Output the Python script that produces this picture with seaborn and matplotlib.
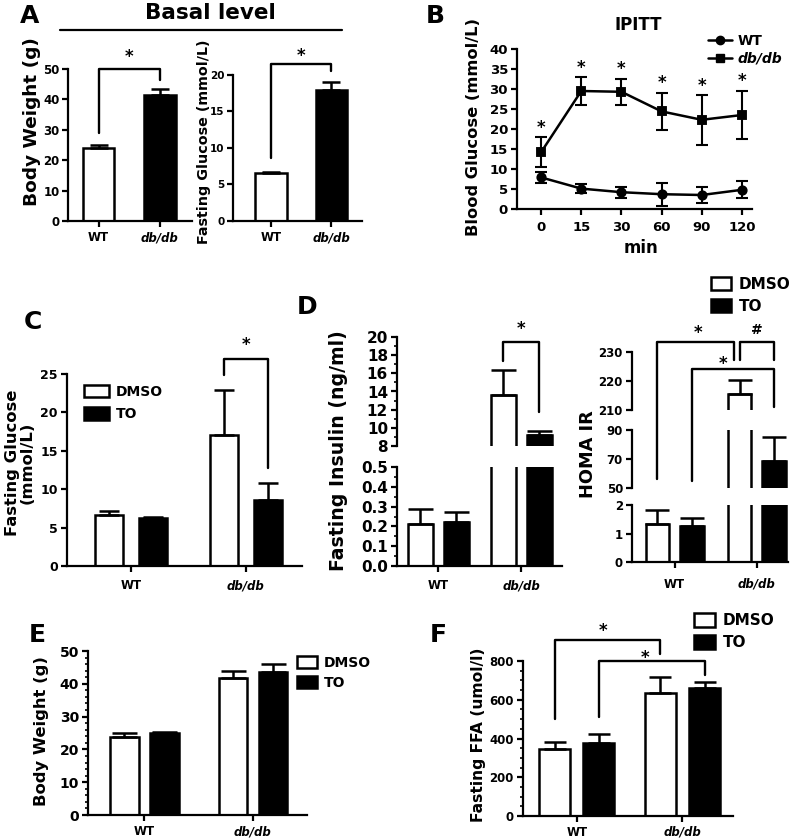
import numpy as np
import pandas as pd
import matplotlib
matplotlib.use('Agg')
import matplotlib.pyplot as plt
import seaborn as sns
from matplotlib.lines import Line2D
from matplotlib.patches import Patch
from matplotlib.ticker import MultipleLocator, FixedLocator, FormatStrFormatter
from matplotlib.transforms import offset_copy

# ---- data ----
groups = ['WT', 'db/db']
treatments = ['DMSO', 'TO']

# A: basal level
a_weight = [24.1, 41.6]
a_weight_err = [0.9, 1.7]
a_glucose = [6.6, 17.9]
a_glucose_err = [0.1, 1.1]

# B: IPITT
b_time = ['0', '15', '30', '60', '90', '120']
b_wt = [7.9, 5.1, 4.2, 3.7, 3.5, 4.8]
b_wt_err = [1.3, 1.1, 1.4, 2.9, 2.1, 2.1]
b_db = [14.2, 29.5, 29.3, 24.4, 22.3, 23.5]
b_db_err = [3.7, 3.4, 3.3, 4.7, 6.2, 6.1]

# C: fasting glucose
c_dmso = [6.7, 17.0]
c_dmso_err = [0.45, 5.9]
c_to = [6.26, 8.65]
c_to_err = [0.15, 2.15]

# D: fasting insulin and HOMA IR
d_ins_dmso = [0.21, 13.65]
d_ins_dmso_err = [0.08, 2.75]
d_ins_to = [0.224, 9.17]
d_ins_to_err = [0.05, 0.48]
d_homa_dmso = [1.32, 215.5]
d_homa_dmso_err = [0.5, 5.0]
d_homa_to = [1.27, 68.7]
d_homa_to_err = [0.28, 16.7]

# E: body weight
e_dmso = [23.9, 41.9]
e_dmso_err = [1.0, 2.0]
e_to = [25.1, 43.7]
e_to_err = [0.3, 2.4]

# F: fasting FFA
f_dmso = [344, 633]
f_dmso_err = [36, 83]
f_to = [377, 659]
f_to_err = [45, 33]

sns.set_theme(style='ticks')
plt.rcParams['font.family'] = ['DejaVu Sans']
plt.rcParams['font.weight'] = 'bold'
plt.rcParams['axes.labelweight'] = 'bold'
plt.rcParams['axes.edgecolor'] = 'black'
plt.rcParams['xtick.color'] = 'black'
plt.rcParams['ytick.color'] = 'black'
plt.rcParams['text.color'] = 'black'
plt.rcParams['axes.labelcolor'] = 'black'

W, H = 800, 838
fig = plt.figure(figsize=(W / 100, H / 100), dpi=100)
boxes = {}


def add_ax(x0, x1, y0, y1):
    ax = fig.add_axes([x0 / W, 1 - y1 / H, (x1 - x0) / W, (y1 - y0) / H])
    boxes[ax] = (x0, x1, y0, y1)
    return ax


def style(ax, fs, bottom=True, xpad=3):
    sns.despine(ax=ax, bottom=not bottom)
    for s in ax.spines.values():
        s.set_linewidth(1.6)
    ax.tick_params(which='major', width=1.6, length=4.5, labelsize=fs, pad=2)
    ax.tick_params(axis='x', labelsize=8.5, pad=xpad)
    ax.tick_params(which='minor', width=1.2, length=2.5)
    ax.set_facecolor('none')
    ax.set_xlabel('')
    ax.set_ylabel('')
    if not bottom:
        ax.tick_params(axis='x', which='both', bottom=False, labelbottom=False)


def ylab(ax, text, fs, cx, cy, **kw):
    x0, x1, y0, y1 = boxes[ax]
    ax.set_ylabel(text, fontsize=fs, va='center', **kw)
    ax.yaxis.set_label_coords((cx - x0) / (x1 - x0), (y1 - cy) / (y1 - y0))


def cat_ticks(ax):
    ax.set_xticks([0, 1])
    ax.set_xticklabels(groups)
    for t in ax.get_xticklabels():
        if t.get_text() == 'db/db':
            t.set_style('italic')


def grouped(ax, dmso, to, width, gap):
    df = pd.DataFrame({'group': groups * 2,
                       'treatment': ['DMSO'] * 2 + ['TO'] * 2,
                       'value': dmso + to})
    sns.barplot(data=df, x='group', y='value', hue='treatment', order=groups,
                hue_order=treatments, palette={'DMSO': 'white', 'TO': 'black'},
                edgecolor='black', linewidth=1.8, width=width, gap=gap,
                errorbar=None, legend=False, ax=ax)


def centers(ax):
    ps = sorted(ax.patches, key=lambda p: p.get_x())
    return [p.get_x() + p.get_width() / 2 for p in ps]


def errs(ax, err, cs):
    ps = sorted(ax.patches, key=lambda p: p.get_x())
    for p, e in zip(ps, err):
        ax.errorbar(p.get_x() + p.get_width() / 2, p.get_height(), yerr=[[0], [e]],
                    fmt='none', ecolor='black', elinewidth=1.8, capsize=cs, capthick=1.8)


def to_fig(ax, x, y):
    return fig.transFigure.inverted().transform(ax.transData.transform((x, y)))


def bracket(pts):
    xy = np.array([to_fig(a, x, y) for a, x, y in pts])
    fig.add_artist(Line2D(xy[:, 0], xy[:, 1], color='black', lw=1.7,
                          transform=fig.transFigure))


def star(ax, x, y, s='*', fs=12):
    fx, fy = to_fig(ax, x, y)
    dy = -4 if s == '*' else -1.2
    fig.text(fx, fy, s, ha='center', va='center', fontsize=fs,
             transform=offset_copy(fig.transFigure, fig=fig, y=dy, units='points'))


def box_legend(x, y, fs, hl, hh, ls):
    handles = [Patch(facecolor='white', edgecolor='black', linewidth=1.8),
               Patch(facecolor='black', edgecolor='black', linewidth=1.8)]
    fig.legend(handles, treatments, loc='upper left', bbox_to_anchor=(x / W, 1 - y / H),
               frameon=False, fontsize=fs, handlelength=hl, handleheight=hh,
               handletextpad=0.5, labelspacing=ls, borderpad=0, borderaxespad=0)


# ---- A ----
axA1 = add_ax(68, 192, 69, 221)
sns.barplot(x=groups, y=a_weight, hue=groups, palette=['white', 'black'], legend=False,
            edgecolor='black', linewidth=1.8, width=0.52, ax=axA1)
errs(axA1, a_weight_err, 6.5)
axA1.set_ylim(0, 50)
axA1.set_xlim(-0.5, 1.53)
axA1.yaxis.set_major_locator(MultipleLocator(10))
style(axA1, 8.5)
axA1.tick_params(axis='y', length=4)
cat_ticks(axA1)
ylab(axA1, 'Body Weight (g)', 13.3, 32, 122)

axA2 = add_ax(233, 362, 75, 221)
sns.barplot(x=groups, y=a_glucose, hue=groups, palette=['white', 'black'], legend=False,
            edgecolor='black', linewidth=1.8, width=0.53, ax=axA2)
errs(axA2, a_glucose_err, 6.5)
axA2.set_ylim(0, 20)
axA2.set_xlim(-0.64, 1.51)
axA2.yaxis.set_major_locator(MultipleLocator(5))
style(axA2, 7.5)
axA2.tick_params(axis='y', length=4)
cat_ticks(axA2)
ylab(axA2, 'Fasting Glucose (mmol/L)', 10.3, 204, 142)

bracket([(axA1, 0, 29), (axA1, 0, 50), (axA1, 1, 50), (axA1, 1, 46.5)])
star(axA1, 0.5, 55.7)
bracket([(axA2, 0, 8.6), (axA2, 0, 21.5), (axA2, 1, 21.5), (axA2, 1, 20.5)])
star(axA2, 0.5, 23.4)
fig.text(210 / W, 1 - 13 / H, 'Basal level', ha='center', va='center', fontsize=15.5)
fig.add_artist(Line2D([60 / W, 342 / W], [1 - 30 / H, 1 - 30 / H], color='black', lw=1.6))

# ---- B ----
axB = add_ax(517, 752, 49, 209)
dfB = pd.DataFrame({'min': b_time * 2,
                    'glucose': b_wt + b_db,
                    'group': ['WT'] * 6 + ['db/db'] * 6})
sns.pointplot(data=dfB, x='min', y='glucose', hue='group', order=b_time,
              hue_order=['WT', 'db/db'], palette=['black', 'black'], markers=['o', 's'],
              linestyles=['-', '-'], errorbar=None, markersize=6, linewidth=1.8,
              legend=False, ax=axB)
pos = np.arange(len(b_time))
axB.errorbar(pos, b_wt, yerr=b_wt_err, fmt='none', ecolor='black', elinewidth=1.5,
             capsize=4, capthick=1.5)
axB.errorbar(pos, b_db, yerr=b_db_err, fmt='none', ecolor='black', elinewidth=1.5,
             capsize=4, capthick=1.5)
axB.set_ylim(0, 40)
axB.set_xlim(-0.6, 5.25)
axB.yaxis.set_major_locator(MultipleLocator(5))
style(axB, 9.5, xpad=4)
axB.tick_params(axis='x', labelsize=9.5)
ylab(axB, 'Blood Glucose (mmol/L)', 11.7, 474, 127)
axB.set_xlabel('min', fontsize=12, va='center')
axB.xaxis.set_label_coords((641 - 517) / 235, -(248 - 209) / 160)
for i in pos:
    star(axB, i, b_db[i] + b_db_err[i] + 3.7)
fig.text(638 / W, 1 - 25 / H, 'IPITT', ha='center', va='center', fontsize=12)
legB = fig.legend([Line2D([], [], color='black', marker='o', lw=1.8, markersize=6),
                   Line2D([], [], color='black', marker='s', lw=1.8, markersize=6)],
                  ['WT', 'db/db'], loc='upper left', bbox_to_anchor=(708 / W, 1 - 34 / H),
                  frameon=False, fontsize=10, handlelength=1.7, handletextpad=0.4,
                  labelspacing=0.25, borderpad=0, borderaxespad=0)
legB.get_texts()[1].set_style('italic')

# ---- C ----
axC = add_ax(67, 302, 374, 566)
grouped(axC, c_dmso, c_to, 0.76, 0.355)
errs(axC, [c_dmso_err[0], c_to_err[0], c_dmso_err[1], c_to_err[1]], 7)
axC.set_ylim(0, 25)
axC.set_xlim(-0.56, 1.49)
axC.yaxis.set_major_locator(MultipleLocator(5))
style(axC, 9, xpad=5)
cat_ticks(axC)
ylab(axC, 'Fasting Glucose\n(mmol/L)', 11.8, 20, 463, linespacing=1.0)
cc = centers(axC)
bracket([(axC, cc[2], 24.9), (axC, cc[2], 26.9), (axC, cc[3], 26.9), (axC, cc[3], 12.7)])
star(axC, 1.0, 29.5)
box_legend(84, 385, 10, 1.8, 1.0, 0.6)

# ---- D: insulin (broken axis) ----
axDu = add_ax(397, 562, 337, 446)
axDl = add_ax(397, 562, 467, 566)
for ax in (axDu, axDl):
    grouped(ax, d_ins_dmso, d_ins_to, 0.867, 0.31)
    errs(ax, [d_ins_dmso_err[0], d_ins_to_err[0], d_ins_dmso_err[1], d_ins_to_err[1]], 9)
    ax.set_xlim(-0.5, 1.49)
axDu.set_ylim(8, 20)
axDu.yaxis.set_major_locator(MultipleLocator(2))
axDu.yaxis.set_minor_locator(MultipleLocator(1))
axDl.set_ylim(0, 0.5)
axDl.yaxis.set_major_locator(MultipleLocator(0.1))
axDl.yaxis.set_minor_locator(MultipleLocator(0.05))
axDl.yaxis.set_major_formatter(FormatStrFormatter('%.1f'))
style(axDu, 11, bottom=False)
style(axDl, 11, xpad=5)
cat_ticks(axDl)
ylab(axDl, 'Fasting Insulin (ng/ml)', 13.6, 339, 451)
dc = centers(axDu)
bracket([(axDu, dc[2], 17.4), (axDu, dc[2], 19.45), (axDu, dc[3], 19.45), (axDu, dc[3], 11.7)])
star(axDu, (dc[2] + dc[3]) / 2, 21.5)

# ---- D: HOMA IR (two breaks) ----
axHt = add_ax(632, 788, 352, 410)
axHm = add_ax(632, 788, 430, 488)
axHb = add_ax(632, 788, 505, 562)
for ax in (axHt, axHm, axHb):
    grouped(ax, d_homa_dmso, d_homa_to, 0.84, 0.31)
    errs(ax, [d_homa_dmso_err[0], d_homa_to_err[0], d_homa_dmso_err[1], d_homa_to_err[1]], 8.5)
    ax.set_xlim(-0.52, 1.38)
axHt.set_ylim(210, 230)
axHt.yaxis.set_major_locator(MultipleLocator(10))
axHm.set_ylim(50, 90)
axHm.yaxis.set_major_locator(FixedLocator([50, 70, 90]))
axHb.set_ylim(0, 2)
axHb.yaxis.set_major_locator(MultipleLocator(1))
style(axHt, 8.5, bottom=False)
style(axHm, 8.5, bottom=False)
style(axHb, 8.5, xpad=7)
cat_ticks(axHb)
ylab(axHm, 'HOMA IR', 12.8, 588, 454)
hc = centers(axHb)
bracket([(axHm, hc[0], 56.2), (axHt, hc[0], 233.4), (axHt, hc[2] - 0.065, 233.4),
         (axHt, hc[2] - 0.065, 227.1)])
star(axHt, (hc[0] + hc[2]) / 2, 238.3)
bracket([(axHt, hc[2], 227.1), (axHt, hc[2], 233.4), (axHt, hc[3], 233.4), (axHt, hc[3], 227.1)])
star(axHt, (hc[2] + hc[3]) / 2, 238.3, s='#', fs=10)
bracket([(axHm, hc[1], 54.6), (axHt, hc[1], 224.3), (axHt, hc[3], 224.3), (axHt, hc[3], 211.1)])
star(axHt, (hc[1] + hc[3]) / 2 - 0.12, 227.9)
box_legend(711, 277, 11, 1.3, 0.9, 0.45)

# ---- E ----
axE = add_ax(88, 307, 651, 815)
grouped(axE, e_dmso, e_to, 0.737, 0.29)
errs(axE, [e_dmso_err[0], e_to_err[0], e_dmso_err[1], e_to_err[1]], 9)
axE.set_ylim(0, 50)
axE.set_xlim(-0.52, 1.5)
axE.yaxis.set_major_locator(MultipleLocator(10))
axE.yaxis.set_minor_locator(MultipleLocator(2))
style(axE, 10, xpad=3)
cat_ticks(axE)
ylab(axE, 'Body Weight (g)', 11.8, 42, 731)
box_legend(297, 656, 10, 1.45, 0.95, 0.45)

# ---- F ----
axF = add_ax(523, 733, 661, 816)
grouped(axF, f_dmso, f_to, 0.84, 0.30)
errs(axF, [f_dmso_err[0], f_to_err[0], f_dmso_err[1], f_to_err[1]], 8)
axF.set_ylim(0, 800)
axF.set_xlim(-0.51, 1.48)
axF.yaxis.set_major_locator(MultipleLocator(200))
axF.yaxis.set_minor_locator(MultipleLocator(50))
style(axF, 8.5, xpad=2.5)
cat_ticks(axF)
ylab(axF, 'Fasting FFA (umol/l)', 11.2, 478, 735)
fc = centers(axF)
bracket([(axF, fc[0], 499), (axF, fc[0], 908), (axF, fc[2], 908), (axF, fc[2], 835)])
star(axF, (fc[0] + fc[2]) / 2 - 0.04, 985)
bracket([(axF, fc[1], 513), (axF, fc[1], 800), (axF, fc[3], 800), (axF, fc[3], 727)])
star(axF, (fc[1] + fc[3]) / 2 - 0.06, 846)
box_legend(694, 613, 11, 1.4, 1.0, 0.45)

# ---- panel letters ----
for letter, x, y in [('A', 30, 16), ('B', 435, 16), ('C', 33, 322),
                     ('D', 307, 307), ('E', 37, 635), ('F', 438, 635)]:
    fig.text(x / W, 1 - y / H, letter, ha='center', va='center', fontsize=18)

fig.savefig('out.png', dpi=100)
